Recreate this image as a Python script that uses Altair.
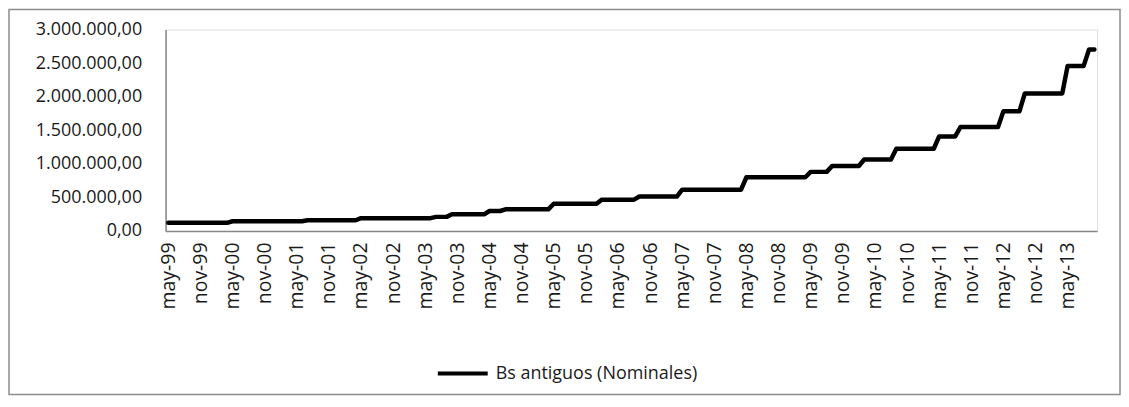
import altair as alt
import pandas as pd

# Step levels of the nominal series (Bs antiguos) and how many months each level lasts,
# starting May 1999 and ending October 2013
levels = [120000, 144000, 158400, 190080, 209088, 247104, 296524.8, 321235.2,
          405000, 465750, 512325, 614790, 799230, 879300, 967500, 1064250,
          1223890, 1407470, 1548220, 1780450, 2047520, 2457020, 2702730]
months_at_level = [12, 14, 10, 14, 3, 7, 3, 9, 9, 7, 8, 12, 12, 4, 6, 6, 8, 4, 8, 4, 8, 4, 2]

month_names = ["ene", "feb", "mar", "abr", "may", "jun", "jul", "ago", "sep", "oct", "nov", "dic"]
start_year, start_month = 1999, 4  # may-99
y_ticks = [0, 500000, 1000000, 1500000, 2000000, 2500000, 3000000]
series_name = "Bs antiguos (Nominales)"

values = []
for lv, n in zip(levels, months_at_level):
    values.extend([lv] * n)

labels = []
for i in range(len(values)):
    m = start_month + i
    y = start_year + m // 12
    labels.append(f"{month_names[m % 12]}-{y % 100:02d}")

df = pd.DataFrame({"mes": labels, "valor": values, "serie": series_name})
tick_labels = labels[::6]

FONT = "Open Sans"
FS = 18
W, H = 934, 202
PAD = {"left": 158, "top": 21, "right": 24, "bottom": 165}

line = alt.Chart(df).mark_line(
    strokeWidth=4.5, strokeCap="round", strokeJoin="round"
).encode(
    x=alt.X("mes:O", sort=labels,
            scale=alt.Scale(padding=0.5),
            axis=alt.Axis(values=tick_labels, labelAngle=270, title=None,
                          ticks=False, tickSize=0, labelPadding=11,
                          domainColor="#868686", domainWidth=1.5,
                          labelFont=FONT, labelFontSize=19.5, labelColor="#1a1a1a")),
    y=alt.Y("valor:Q",
            scale=alt.Scale(domain=[0, 3000000], nice=False),
            axis=alt.Axis(values=y_ticks, format=",.2f", title=None, grid=False,
                          ticks=False, tickSize=0, labelPadding=24,
                          domainColor="#868686", domainWidth=1.5,
                          labelFont=FONT, labelFontSize=FS, labelColor="#1a1a1a")),
    color=alt.Color("serie:N", scale=alt.Scale(range=["#000000"]),
                    legend=alt.Legend(orient="none", legendX=271, legendY=318,
                                      title=None, symbolType="stroke", symbolSize=2500,
                                      symbolStrokeWidth=4, padding=0, labelOffset=6,
                                      labelLimit=0,
                                      labelFont=FONT, labelFontSize=FS,
                                      labelColor="#1a1a1a")),
)

frame = alt.Chart(alt.Data(values=[{"a": 1}])).mark_rect(
    filled=False, stroke="#8c8c8c", strokeWidth=1.5
).encode(
    x=alt.value(-PAD["left"] + 1), x2=alt.value(W + PAD["right"] - 1),
    y=alt.value(-PAD["top"] + 1), y2=alt.value(H + PAD["bottom"] - 1),
)

chart = alt.layer(frame, line).properties(
    width=W, height=H, padding=PAD, autosize=alt.AutoSizeParams(type="none"),
    background="white",
).configure_view(stroke=None).configure(
    locale={"number": {"decimal": ",", "thousands": ".", "grouping": [3],
                       "currency": ["", ""]}}
)

chart.save("out.html", embed_options={"renderer": "svg", "actions": False})
